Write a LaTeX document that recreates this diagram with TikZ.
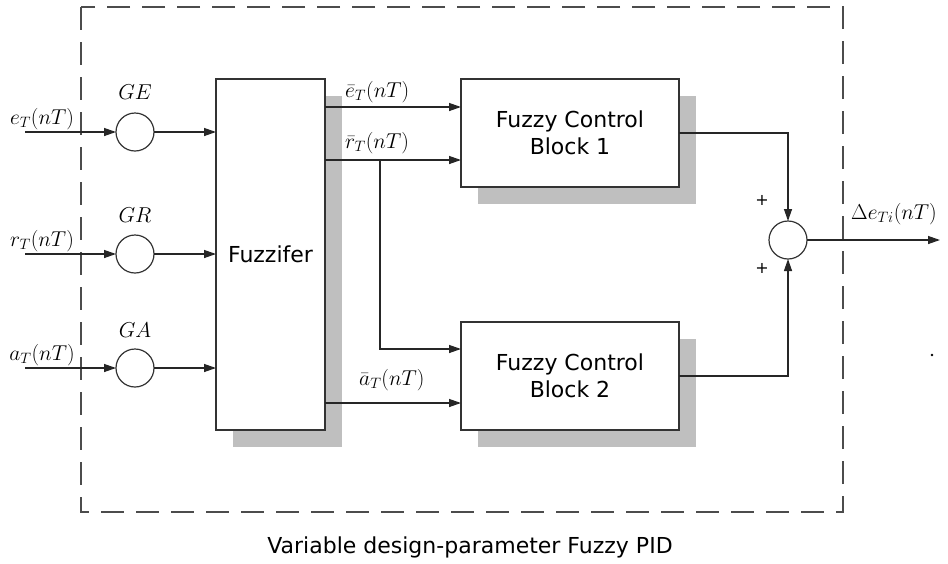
\documentclass[tikz,border=0pt]{standalone}
\usepackage{fix-cm}
\usepackage{fontspec}
\setsansfont{DejaVu Sans}
\usetikzlibrary{arrows.meta,calc}
\begin{document}
\begin{tikzpicture}[x=1pt,y=-1pt,
  blk/.style={draw=black!80,line width=1.8pt,fill=white,inner sep=0pt,outer sep=0pt,font=\sffamily\fontsize{22}{27}\selectfont,align=center},
  shade/.style={fill=black!25,draw=none},
  gain/.style={circle,draw=black!80,line width=1.2pt,minimum size=38pt,inner sep=0pt,outer sep=0pt,fill=white},
  sig/.style={line width=1.3pt,draw=black!85},
  arr/.style={sig,-{Triangle[length=12pt,width=8pt]}},
  lbl/.style={font=\fontsize{21.5}{25}\selectfont,inner sep=0pt},
  plus/.style={font=\sffamily\fontsize{16}{16}\selectfont,inner sep=0pt},
]
\useasboundingbox (0,0) rectangle (948,563);
% frame
\draw[line width=1.5pt,black!70,dash pattern=on 23pt off 12pt] (81,7) rectangle (843,512);
% shadows
\fill[shade] (233,96) rectangle (342,447);
\fill[shade] (478,96) rectangle (696,204);
\fill[shade] (478,339) rectangle (696,447);
% blocks
\node[blk,minimum width=109pt,minimum height=351pt] (fz) at (270.5,254.5) {Fuzzifer};
\node[blk,minimum width=218pt,minimum height=108pt] (b1) at (570,133) {Fuzzy Control\\Block 1};
\node[blk,minimum width=218pt,minimum height=108pt] (b2) at (570,376) {Fuzzy Control\\Block 2};
% gains
\node[gain] (ge) at (135,132) {};
\node[gain] (gr) at (135,254) {};
\node[gain] (ga) at (135,368) {};
\node[gain] (sum) at (788,240) {};
% coordinates
\coordinate (ein) at (25,132);
\coordinate (rin) at (25,254);
\coordinate (ain) at (25,368);
\coordinate (eo) at (325,107);
\coordinate (ro) at (325,160);
\coordinate (ao) at (325,403);
\coordinate (br) at (380,160);
\coordinate (out) at (940,240);
% inputs
\draw[arr] (ein) -- (ge);
\draw[arr] (rin) -- (gr);
\draw[arr] (ain) -- (ga);
\draw[arr] (ge) -- (ge -| fz.west);
\draw[arr] (gr) -- (gr -| fz.west);
\draw[arr] (ga) -- (ga -| fz.west);
% fuzzifier outputs
\draw[arr] (eo) -- (eo -| b1.west);
\draw[arr] (ro) -- (ro -| b1.west);
\draw[arr] (br) |- ($(b2.west)+(0,-27)$);
\draw[arr] (ao) -- (ao -| b2.west);
% sum
\draw[arr] (b1.east) -| (sum.north);
\draw[arr] (b2.east) -| (sum.south);
\draw[arr] (sum.east) -- (out);
% labels
\node[lbl,anchor=base] (le) at (42,124) {$e_T(nT)$};
\node[lbl,anchor=base] (lr) at (42,246) {$r_T(nT)$};
\node[lbl,anchor=base] (la) at (42,360) {$a_T(nT)$};
\node[lbl] (lge) at (135,92) {$GE$};
\node[lbl] (lgr) at (135,215) {$GR$};
\node[lbl] (lga) at (135,330) {$GA$};
\node[lbl,anchor=base west] (leb) at (345,97) {$\bar e_T(nT)$};
\node[lbl,anchor=base west] (lrb) at (345,148) {$\bar r_T(nT)$};
\node[lbl,anchor=base west] (lab) at (359,385) {$\bar a_T(nT)$};
\node[lbl,anchor=base] (ldel) at (894,219) {$\Delta e_{Ti}(nT)$};
\node[plus] (p1) at (762,200) {+};
\node[plus] (p2) at (762,268) {+};
\fill (932,355) circle (1.3pt);
% caption
\node[font=\sffamily\fontsize{22}{26}\selectfont,inner sep=0pt] (cap) at (470,547) {Variable design-parameter Fuzzy PID};
\end{tikzpicture}
\end{document}
